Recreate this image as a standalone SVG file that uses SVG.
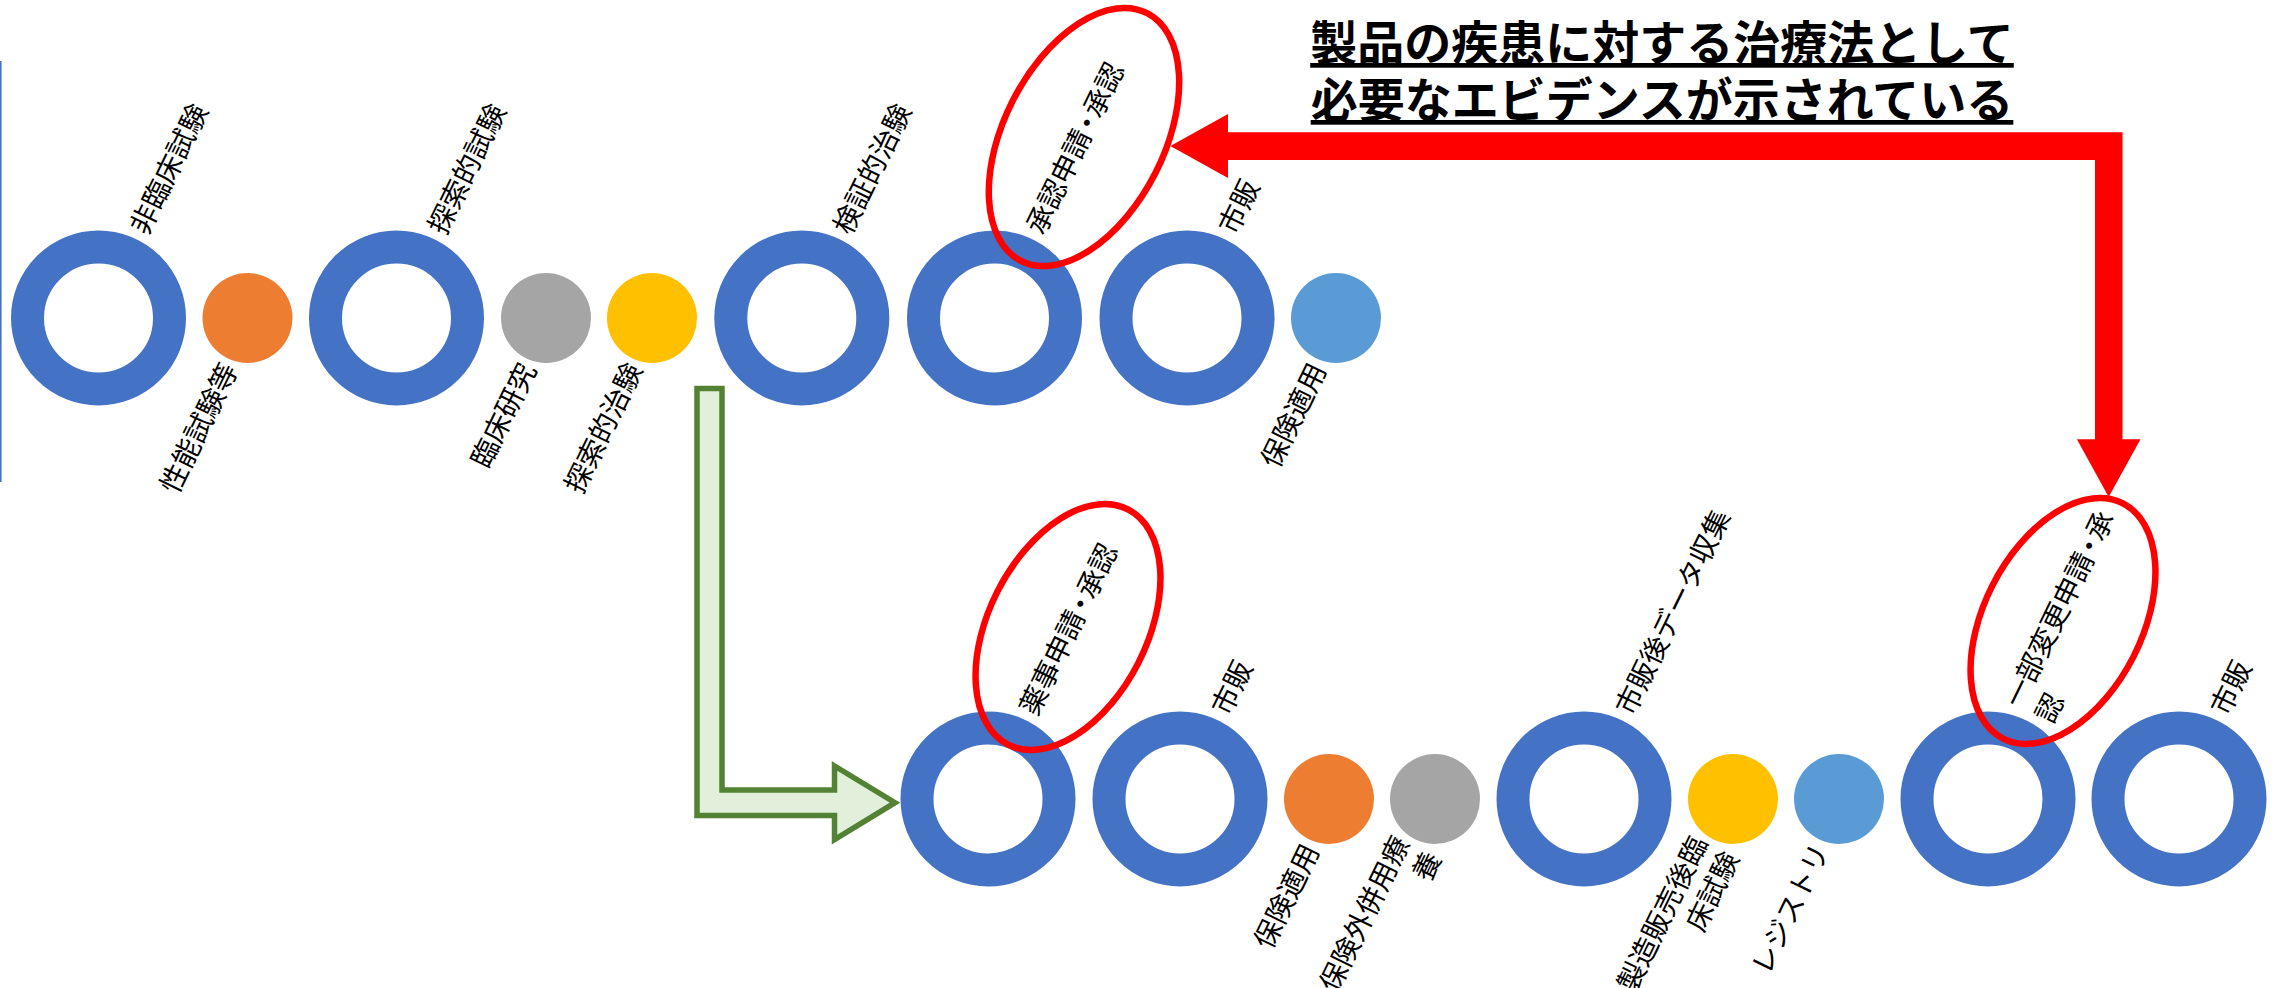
<svg xmlns="http://www.w3.org/2000/svg" width="2281" height="988" viewBox="0 0 2281 988">
<style>
.ring{fill:#fff;stroke:#4472C4;stroke-width:33}
.d-or{fill:#ED7D31}.d-gy{fill:#A5A5A5}.d-ye{fill:#FFC000}.d-lb{fill:#5B9BD5}
.lb{font-family:"Noto Sans CJK JP","Noto Sans",sans-serif;font-size:28px;fill:#000;dominant-baseline:central}
.up{text-anchor:start}.dn{text-anchor:end}
.hl{fill:none;stroke:#FF0000;stroke-width:6.5}
.title{font-family:"Noto Sans CJK JP",sans-serif;font-size:47px;font-weight:700;fill:#000;text-anchor:middle;text-decoration:underline}
</style>
<rect width="2281" height="988" fill="#fff"/>
<line x1="0.8" y1="61" x2="0.8" y2="482" stroke="#4472C4" stroke-width="1.6"/>

<g id="title">
<text class="title" x="1662" y="60">製品の疾患に対する治療法として</text>
<text class="title" x="1662" y="117">必要なエビデンスが示されている</text>
</g>

<!-- upper row -->
<g id="n-hirinsho"><circle class="ring" cx="98.5" cy="318" r="71"/><text class="lb up" transform="translate(136.5,231) rotate(-64)">非臨床試験</text></g>
<g id="n-seino"><circle class="d-or" cx="247.5" cy="318" r="45"/><text class="lb dn" transform="translate(227.8,364.1) rotate(-64)">性能試験等</text></g>
<g id="n-tansaku"><circle class="ring" cx="396.5" cy="318" r="71"/><text class="lb up" transform="translate(434.5,231) rotate(-64)">探索的試験</text></g>
<g id="n-rinsho"><circle class="d-gy" cx="546" cy="318" r="45"/><text class="lb dn" transform="translate(526.3,364.1) rotate(-64)">臨床研究</text></g>
<g id="n-tansakuchiken"><circle class="d-ye" cx="652" cy="318" r="45"/><text class="lb dn" transform="translate(632.3,364.1) rotate(-64)">探索的治験</text></g>
<g id="n-kensho"><circle class="ring" cx="801.8" cy="318" r="71"/><text class="lb up" transform="translate(839.8,231) rotate(-64)">検証的治験</text></g>
<g id="n-shonin"><circle class="ring" cx="994.5" cy="318" r="71"/><text class="lb up" transform="translate(1032.5,231) rotate(-64)">承認申請<tspan dx="-5">・</tspan><tspan dx="-5">承認</tspan></text>
<ellipse class="hl" cx="1084" cy="137" rx="80" ry="139" transform="rotate(27 1084 137)"/></g>
<g id="n-shihan1"><circle class="ring" cx="1187" cy="318" r="71"/><text class="lb up" transform="translate(1225,231) rotate(-64)">市販</text></g>
<g id="n-hoken1"><circle class="d-lb" cx="1336" cy="318" r="45"/><text class="lb dn" transform="translate(1316.3,364.1) rotate(-64)">保険適用</text></g>

<!-- lower row -->
<g id="n-yakuji"><circle class="ring" cx="988" cy="799" r="71"/><text class="lb up" transform="translate(1026,712) rotate(-64)">薬事申請<tspan dx="-5">・</tspan><tspan dx="-5">承認</tspan></text>
<ellipse class="hl" cx="1068" cy="627" rx="79" ry="132" transform="rotate(27 1068 627)"/></g>
<g id="n-shihan2"><circle class="ring" cx="1180" cy="799" r="71"/><text class="lb up" transform="translate(1218,712) rotate(-64)">市販</text></g>
<g id="n-hoken2"><circle class="d-or" cx="1329" cy="799" r="45"/><text class="lb dn" transform="translate(1309.3,845.1) rotate(-64)">保険適用</text></g>
<g id="n-heiyo"><circle class="d-gy" cx="1435" cy="799" r="45"/><text class="lb dn" transform="translate(1415.3,845.1) rotate(-64)"><tspan x="0" y="-17.5">保険外併用療</tspan><tspan x="0" y="17.5">養</tspan></text></g>
<g id="n-shihango"><circle class="ring" cx="1584" cy="799" r="71"/><text class="lb up" transform="translate(1622,712) rotate(-64)">市販後データ収集</text></g>
<g id="n-seizo"><circle class="d-ye" cx="1733" cy="799" r="45"/><text class="lb dn" transform="translate(1713.3,845.1) rotate(-64)"><tspan x="0" y="-17.5">製造販売後臨</tspan><tspan x="0" y="17.5">床試験</tspan></text></g>
<g id="n-registry"><circle class="d-lb" cx="1839" cy="799" r="45"/><text class="lb dn" transform="translate(1819.3,845.1) rotate(-64)">レジストリ</text></g>
<g id="n-ichibu"><circle class="ring" cx="1988" cy="799" r="71"/><text class="lb up" transform="translate(2026,712) rotate(-64)"><tspan x="0" y="-17.5">一部変更申請</tspan><tspan dx="-5">・</tspan><tspan dx="-5">承</tspan><tspan x="0" y="17.5">認</tspan></text>
<ellipse class="hl" cx="2063" cy="621" rx="79" ry="132" transform="rotate(27 2063 621)"/></g>
<g id="n-shihan3"><circle class="ring" cx="2179" cy="799" r="71"/><text class="lb up" transform="translate(2217,712) rotate(-64)">市販</text></g>

<g id="connectors">
<polygon points="697,388.5 722,388.5 722,790 834.5,790 834.5,766 895,802.7 834.5,839.5 834.5,815.5 697,815.5" fill="#E2EFDA" stroke="#548235" stroke-width="5.5"/>
<polygon points="1170.4,146 1228,114 1228,132.3 2122.5,132.3 2122.5,439.3 2140.5,439.3 2108.7,497 2076.9,439.3 2095,439.3 2095,160 1228,160 1228,178" fill="#FF0000"/>
</g>
</svg>
